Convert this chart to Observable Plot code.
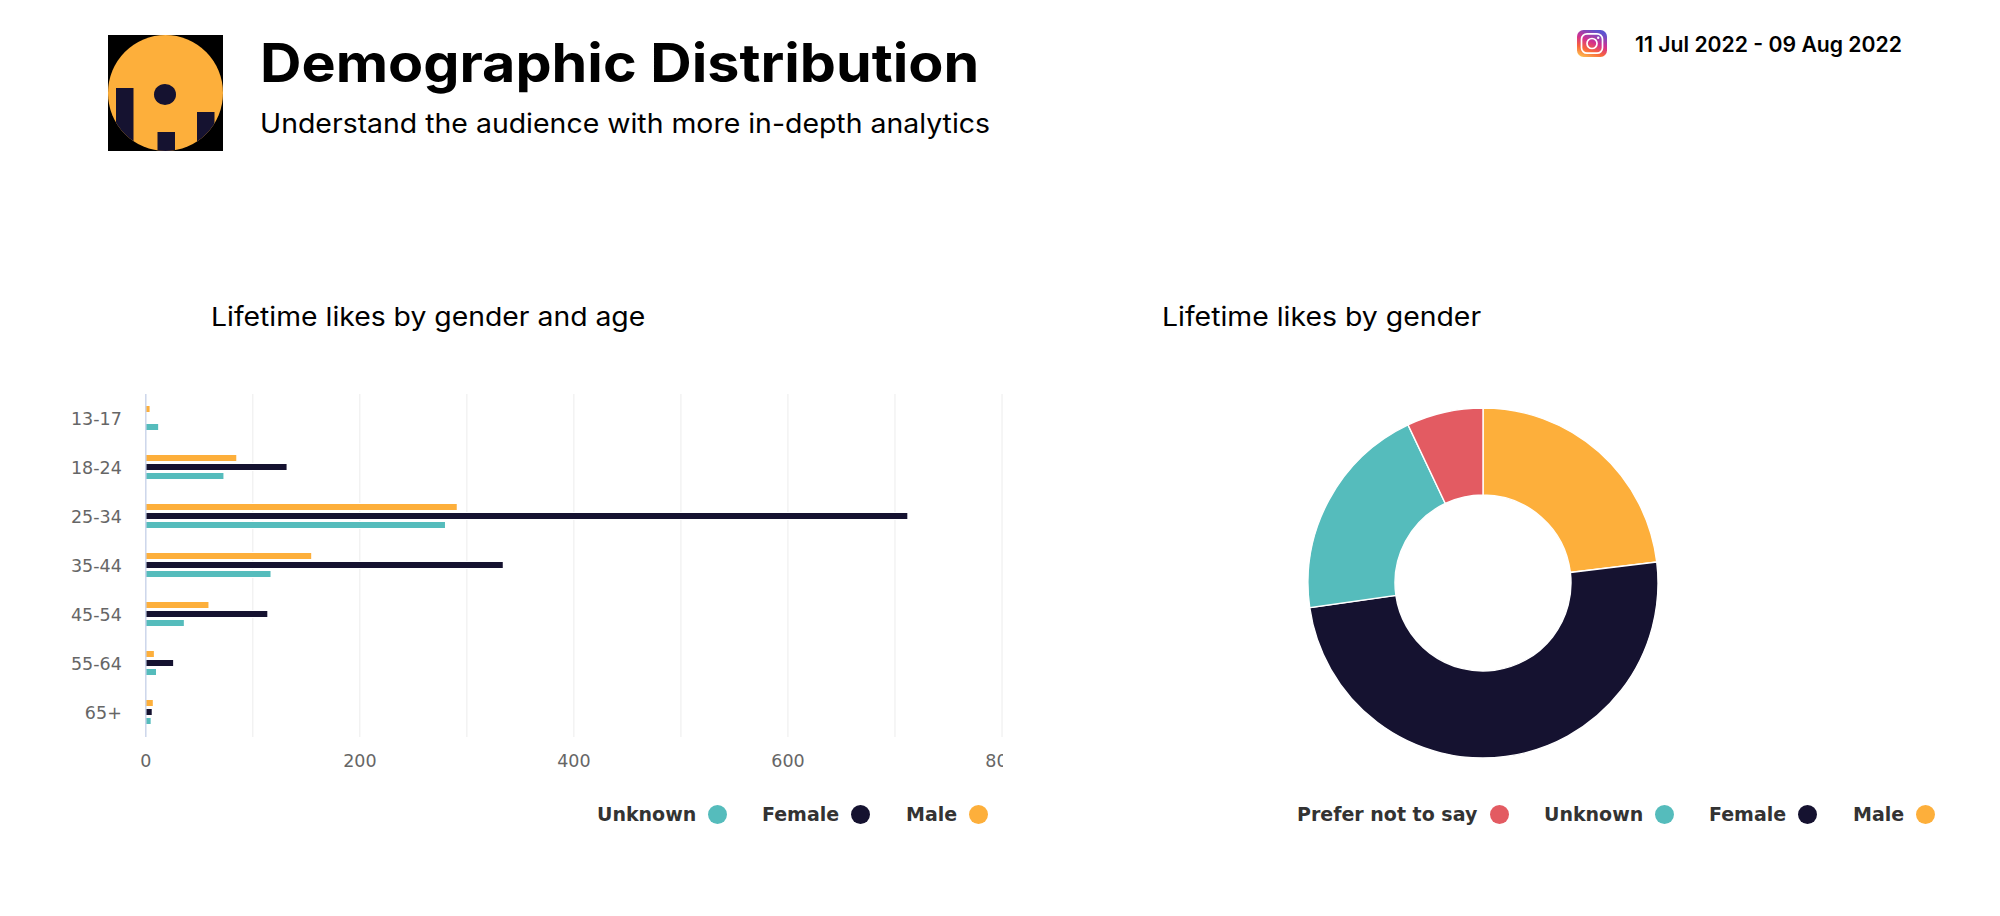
<!DOCTYPE html>
<html>
<head>
<meta charset="utf-8">
<title>Demographic Distribution</title>
<script src="https://cdn.jsdelivr.net/npm/d3@7"></script>
<script src="https://cdn.jsdelivr.net/npm/@observablehq/plot@0.6"></script>
<style>
  html, body { margin: 0; padding: 0; background: #fff; }
  #page { position: relative; width: 2000px; height: 916px; overflow: hidden; background: #fff; }
  .abs { position: absolute; white-space: nowrap; line-height: 1; }
  .hdr { font-family: Inter, "Open Sans", sans-serif; color: #000; transform-origin: left center; }
  .leg { font-family: "DejaVu Sans", sans-serif; font-weight: 700; font-size: 19px; color: #333; }
  .dot { position: absolute; width: 19px; height: 19px; border-radius: 50%; top: 804.5px; }
  #bars svg, #donut svg { background: transparent; }
</style>
</head>
<body>
<div id="page">
  <svg class="abs" style="left:108px;top:35px" width="115" height="116" viewBox="0 0 115 116">
    <defs><clipPath id="lc"><ellipse cx="57.5" cy="58" rx="57.5" ry="58"/></clipPath></defs>
    <rect width="115" height="116" fill="#000"/>
    <g clip-path="url(#lc)">
      <rect width="115" height="116" fill="#fdaf3b"/>
      <rect x="8" y="53" width="17.5" height="63" fill="#151230"/>
      <rect x="49.5" y="97" width="17.5" height="19" fill="#151230"/>
      <rect x="89" y="77" width="17.5" height="39" fill="#151230"/>
      <ellipse cx="57" cy="59.5" rx="11" ry="10.5" fill="#151230"/>
    </g>
  </svg>
  <div class="abs hdr" id="title" style="left:260px;top:37px;font-size:53px;font-weight:700;transform:scaleX(1.083)">Demographic Distribution</div>
  <div class="abs hdr" id="subtitle" style="left:260px;top:110px;font-size:27px;font-weight:400;transform:scaleX(1.053)">Understand the audience with more in-depth analytics</div>
  <svg class="abs" style="left:1577px;top:30px" width="30" height="27" viewBox="0 0 30 27">
    <defs><linearGradient id="ig" x1="0.15" y1="1" x2="0.6" y2="0">
      <stop offset="0" stop-color="#fdc04f"/><stop offset="0.3" stop-color="#f9663a"/>
      <stop offset="0.6" stop-color="#d3308f"/><stop offset="1" stop-color="#5c53d0"/>
    </linearGradient></defs>
    <rect width="30" height="27" rx="6.5" fill="url(#ig)"/>
    <rect x="4.5" y="3.8" width="21" height="19.4" rx="5.5" fill="none" stroke="#fff" stroke-width="1.7"/>
    <circle cx="15" cy="13.5" r="5" fill="none" stroke="#fff" stroke-width="1.7"/>
    <circle cx="21.2" cy="7.8" r="1.2" fill="#fff"/>
  </svg>
  <div class="abs hdr" id="dates" style="left:1635px;top:33.5px;font-size:21.2px;font-weight:600">11 Jul 2022 - 09 Aug 2022</div>
  <div class="abs hdr" id="t1" style="left:211px;top:304px;font-size:26px;font-weight:400;transform:scaleX(1.09)">Lifetime likes by gender and age</div>
  <div class="abs hdr" id="t2" style="left:1162px;top:304px;font-size:26px;font-weight:400;transform:scaleX(1.092)">Lifetime likes by gender</div>

  <div id="bars" class="abs" style="left:0;top:380px;width:1003px;height:400px;overflow:hidden"></div>
  <div id="donut" class="abs" style="left:1283px;top:383px;width:400px;height:400px"></div>

  <div class="abs leg" style="left:597px;top:805px">Unknown</div>
  <div class="dot" style="left:708px;background:#55bcbc"></div>
  <div class="abs leg" style="left:762px;top:805px">Female</div>
  <div class="dot" style="left:851px;background:#151230"></div>
  <div class="abs leg" style="left:906px;top:805px">Male</div>
  <div class="dot" style="left:969px;background:#fdaf3b"></div>

  <div class="abs leg" style="left:1297px;top:805px">Prefer not to say</div>
  <div class="dot" style="left:1489.5px;background:#e35b62"></div>
  <div class="abs leg" style="left:1544px;top:805px">Unknown</div>
  <div class="dot" style="left:1655px;background:#55bcbc"></div>
  <div class="abs leg" style="left:1709px;top:805px">Female</div>
  <div class="dot" style="left:1798px;background:#151230"></div>
  <div class="abs leg" style="left:1853px;top:805px">Male</div>
  <div class="dot" style="left:1915.5px;background:#fdaf3b"></div>
</div>
<script>
// ---- data ----
const ages = ["13-17", "18-24", "25-34", "35-44", "45-54", "55-64", "65+"];
const maleLikes = [4, 85, 291, 155, 59, 8, 7];
const femaleLikes = [0, 132, 712, 334, 114, 26, 6];
const unknownLikes = [12, 73, 280, 117, 36, 10, 5];
const genderOrder = ["Male", "Female", "Unknown"];
const donutGenders = ["Male", "Female", "Unknown", "Prefer not to say"];
const donutLikes = [616, 1325, 539, 188];
const genderColors = ["#fdaf3b", "#151230", "#55bcbc", "#e35b62"];
const xLabelTicks = [0, 200, 400, 600, 800];
const xGridTicks = [100, 200, 300, 400, 500, 600, 700, 800];

// ---- tables built from the arrays ----
const byGender = {Male: maleLikes, Female: femaleLikes, Unknown: unknownLikes};
const barRows = genderOrder.flatMap(g =>
  ages.map((age, i) => ({age, gender: g, likes: byGender[g][i]}))
).filter(d => d.likes > 0);
const donutRows = donutGenders.map((gender, i) => ({gender, likes: donutLikes[i]}));

const tickFont = {fontFamily: "DejaVu Sans, sans-serif", fontSize: 17.5, fill: "#666"};

// ---- bars ----
document.getElementById("bars").append(Plot.plot({
  width: 1003, height: 400,
  marginLeft: 145.3, marginRight: 1.5, marginTop: 12, marginBottom: 41,
  style: {background: "transparent", overflow: "hidden"},
  x: {domain: [0, 800], axis: null},
  fy: {domain: ages, padding: 0, axis: null, label: null},
  y: {domain: genderOrder, range: [23.1, 49.1], paddingInner: 0.32, paddingOuter: 0, axis: null},
  color: {domain: donutGenders, range: genderColors},
  marks: [
    Plot.gridX(xGridTicks, {stroke: "#ececec", strokeOpacity: 1, strokeWidth: 1}),
    Plot.barX(barRows, {
      x: "likes", y: "gender", fy: "age", fill: "gender",
      stroke: "#fff", strokeWidth: 2, paintOrder: "stroke"
    }),
    Plot.ruleX([0], {stroke: "#ccd6eb", strokeWidth: 1.5}),
    Plot.axisX(xLabelTicks, {anchor: "bottom", tickSize: 0, tickPadding: 17, label: null, ...tickFont}),
    Plot.axisFy({anchor: "left", tickSize: 0, tickPadding: 24, label: null, ...tickFont})
  ]
}));

// ---- donut: stacked bars on an angular x scale, drawn as annular sectors ----
const outerR = 175, innerR = 88;
const arcPath = d3.arc().innerRadius(innerR).outerRadius(outerR);
document.getElementById("donut").append(Plot.plot({
  width: 400, height: 400, margin: 0,
  style: {background: "transparent"},
  x: {domain: [0, d3.sum(donutLikes)], range: [0, 2 * Math.PI], axis: null},
  color: {domain: donutGenders, range: genderColors},
  marks: [
    Plot.barX(donutRows, Plot.stackX({
      x: "likes", fill: "gender", order: null,
      render(index, scales, values, dims) {
        const g = d3.create("svg:g")
          .attr("transform", `translate(${dims.width / 2},${dims.height / 2})`);
        for (const i of index) {
          g.append("path")
            .attr("d", arcPath({startAngle: values.x1[i], endAngle: values.x2[i]}))
            .attr("fill", values.fill[i])
            .attr("stroke", "#fff")
            .attr("stroke-width", 1.4);
        }
        return g.node();
      }
    }))
  ]
}));
</script>
</body>
</html>
